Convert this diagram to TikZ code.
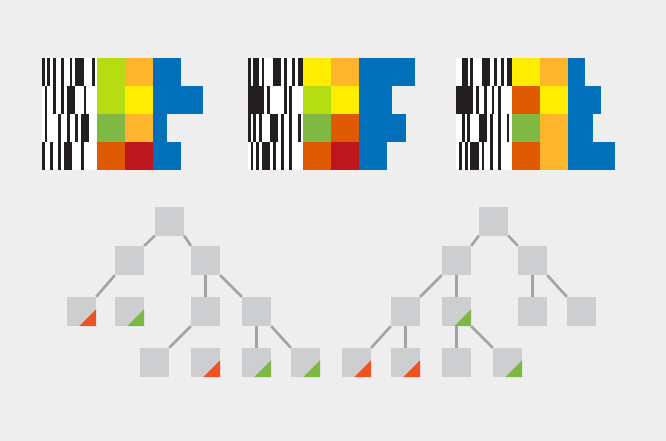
\documentclass[tikz,border=0pt]{standalone}
\usetikzlibrary{calc,backgrounds}
\definecolor{bgc}{HTML}{EEEEEE}
\definecolor{nodec}{HTML}{CDCED0}
\definecolor{edgec}{HTML}{A2A3A6}
\definecolor{trired}{HTML}{EF5323}
\definecolor{trigreen}{HTML}{7DB843}
\definecolor{barc}{HTML}{231F20}
\definecolor{cYG}{HTML}{B5DB11}
\definecolor{cGR}{HTML}{7FB842}
\definecolor{cOR}{HTML}{DF5A00}
\definecolor{cRD}{HTML}{BD161E}
\definecolor{cOY}{HTML}{FDB52B}
\definecolor{cYE}{HTML}{FFED00}
\definecolor{cBL}{HTML}{0070BA}
\tikzset{
  tn/.style={rectangle, fill=nodec, minimum width=29pt, minimum height=29pt, inner sep=0pt},
  te/.style={draw=edgec, line width=2.6pt},
  bar/.style={fill=barc},
}
\newcommand{\cornertri}[2]{\fill[#2] ($(#1.south east)+(-17,0)$) -- (#1.south east) -- ($(#1.south east)+(0,-17)$) -- cycle;}
\newcommand{\barrow}[3]{\foreach \a/\b in {#3} {\fill[bar] (\a,#1) rectangle (\b,#2);}}
\begin{document}
\begin{tikzpicture}[x=1pt,y=-1pt]
\useasboundingbox (0,0) rectangle (666,441);
% ---------- panel 1 ----------
\fill[white] (42,58) rectangle (97,170);
\barrow{58}{86}{42/45,47/50,53/56,61/64,70/72,75/84,92/95}
\barrow{86}{114}{45/47,53/56,61/64,67/75,84/86}
\barrow{114}{142}{45/47,58/61,67/70,75/78,81/89}
\barrow{142}{170}{42/45,50/53,58/61,64/72,81/84}
\fill[cYG] (97,58) rectangle (125,86);
\fill[cYG] (97,86) rectangle (125,114);
\fill[cGR] (97,114) rectangle (125,142);
\fill[cOR] (97,142) rectangle (125,170);
\fill[cOY] (125,58) rectangle (153,86);
\fill[cYE] (125,86) rectangle (153,114);
\fill[cOY] (125,114) rectangle (153,142);
\fill[cRD] (125,142) rectangle (153,170);
\fill[cBL] (153,58) rectangle (181,86);
\fill[cBL] (153,86) rectangle (203,114);
\fill[cBL] (153,114) rectangle (167,142);
\fill[cBL] (153,142) rectangle (181,170);
% ---------- panel 2 ----------
\fill[white] (248,58) rectangle (303,170);
\barrow{58}{86}{248/251,253/259,262/264,273/281,284/287,292/295,298/303}
\barrow{86}{114}{248/264,267/270,284/287,289/292}
\barrow{114}{142}{248/251,253/256,259/262,270/278,281/284,289/292,298/301}
\barrow{142}{170}{251/253,256/259,262/270,273/276,281/284,289/292}
\fill[cYE] (303,58) rectangle (331,86);
\fill[cYG] (303,86) rectangle (331,114);
\fill[cGR] (303,114) rectangle (331,142);
\fill[cOR] (303,142) rectangle (331,170);
\fill[cOY] (331,58) rectangle (359,86);
\fill[cYE] (331,86) rectangle (359,114);
\fill[cOR] (331,114) rectangle (359,142);
\fill[cRD] (331,142) rectangle (359,170);
\fill[cBL] (359,58) rectangle (415,86);
\fill[cBL] (359,86) rectangle (392,114);
\fill[cBL] (359,114) rectangle (406,142);
\fill[cBL] (359,142) rectangle (387,170);
% ---------- panel 3 ----------
\fill[white] (456,58) rectangle (512,170);
\barrow{58}{86}{462/468,470/473,482/490,494/497,501/504,507/512}
\barrow{86}{114}{456/473,476/479,484/487,492/494,498/501}
\barrow{114}{142}{462/465,467/470,479/487,490/493,498/501,507/509}
\barrow{142}{170}{459/462,465/468,470/479,482/484,490/493,498/501}
\fill[cYE] (512,58) rectangle (540,86);
\fill[cOR] (512,86) rectangle (540,114);
\fill[cGR] (512,114) rectangle (540,142);
\fill[cOR] (512,142) rectangle (540,170);
\fill[cOY] (540,58) rectangle (568,86);
\fill[cYE] (540,86) rectangle (568,114);
\fill[cOY] (540,114) rectangle (568,142);
\fill[cOY] (540,142) rectangle (568,170);
\fill[cBL] (568,58) rectangle (585,86);
\fill[cBL] (568,86) rectangle (601,114);
\fill[cBL] (568,114) rectangle (593,142);
\fill[cBL] (568,142) rectangle (615,170);
% ---------- tree 1 ----------
\node[tn] (r1) at (169.5,221) {};
\node[tn] (a) at (129.5,260.5) {};
\node[tn] (b) at (205.5,260.5) {};
\node[tn] (c) at (81.5,311.5) {};
\node[tn] (d) at (129.5,311.5) {};
\node[tn] (e) at (205.5,311.5) {};
\node[tn] (f) at (256.5,311.5) {};
\node[tn] (g) at (154.5,362.5) {};
\node[tn] (h) at (205.5,362.5) {};
\node[tn] (i) at (256.5,362.5) {};
\node[tn] (j) at (305.5,362.5) {};
\cornertri{c}{trired}
\cornertri{d}{trigreen}
\cornertri{h}{trired}
\cornertri{i}{trigreen}
\cornertri{j}{trigreen}
% ---------- tree 2 ----------
\node[tn] (r2) at (493.5,221) {};
\node[tn] (k) at (456.5,260.5) {};
\node[tn] (l) at (532.5,260.5) {};
\node[tn] (m) at (405.5,311.5) {};
\node[tn] (n) at (456.5,311.5) {};
\node[tn] (o) at (532.5,311.5) {};
\node[tn] (p) at (581.5,311.5) {};
\node[tn] (q) at (356.5,362.5) {};
\node[tn] (s) at (405.5,362.5) {};
\node[tn] (t) at (456.5,362.5) {};
\node[tn] (u) at (507.5,362.5) {};
\cornertri{n}{trigreen}
\cornertri{q}{trired}
\cornertri{s}{trired}
\cornertri{u}{trigreen}
% ---------- edges and background ----------
\begin{pgfonlayer}{background}
\fill[bgc] (0,0) rectangle (666,441);
\draw[te] (r1.south west) -- (a.north east);
\draw[te] (r1.south east) -- (b.north west);
\draw[te] (a.south west) -- (c.north east);
\draw[te] (b.south) -- (e.north);
\draw[te] (b.south east) -- (f.north west);
\draw[te] (e.south west) -- (g.north east);
\draw[te] (f.south) -- (i.north);
\draw[te] (f.south east) -- (j.north west);
\draw[te] (r2.south west) -- (k.north east);
\draw[te] (r2.south east) -- (l.north west);
\draw[te] (k.south west) -- (m.north east);
\draw[te] (k.south) -- (n.north);
\draw[te] (l.south) -- (o.north);
\draw[te] (l.south east) -- (p.north west);
\draw[te] (m.south west) -- (q.north east);
\draw[te] (m.south) -- (s.north);
\draw[te] (n.south) -- (t.north);
\draw[te] (n.south east) -- (u.north west);
\end{pgfonlayer}
\end{tikzpicture}
\end{document}
